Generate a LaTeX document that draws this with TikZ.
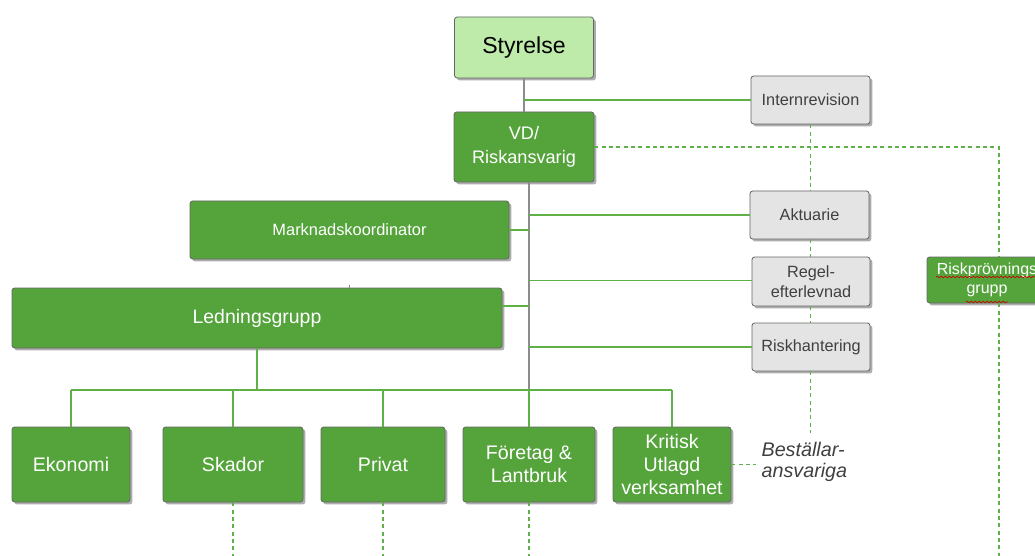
\documentclass[tikz,border=0pt]{standalone}
\usepackage{fontspec}
\setmainfont{Liberation Sans}
\usetikzlibrary{shadows,decorations.pathmorphing}

\definecolor{boxgreen}{RGB}{84,164,59}
\definecolor{palegreen}{RGB}{190,235,170}
\definecolor{boxgray}{RGB}{228,228,228}
\definecolor{linegreen}{RGB}{96,176,72}
\definecolor{linegray}{RGB}{140,140,140}
\definecolor{textgray}{RGB}{64,64,64}

\begin{document}
\begin{tikzpicture}[x=0.75pt,y=0.75pt,yscale=-1,xscale=1,
    unit/.style 2 args={minimum width=#1*0.75pt,minimum height=#2*0.75pt},
    orgbox/.style={draw=black!60,line width=0.6pt,rounded corners=2pt,inner sep=1pt,align=center,
        drop shadow={shadow xshift=1.8pt,shadow yshift=-1.8pt,opacity=0.4,fill=black!80}},
    greenbox/.style={orgbox,fill=boxgreen,text=white},
    graybox/.style={orgbox,fill=boxgray,text=textgray,font=\fontsize{12.2}{14.6}\selectfont},
    bottombox/.style={greenbox,font=\fontsize{14.7}{17.6}\selectfont},
    solidline/.style={linegreen,line width=0.9pt},
    spineline/.style={linegray,line width=0.9pt},
    dashline/.style={linegreen,line width=0.9pt,dash pattern=on 3pt off 2.5pt}]
        \useasboundingbox (0,0) rectangle (1035,556);
        \clip (0,0) rectangle (1035,556);

        %Shape: Rectangle [top]
        \node [orgbox,fill=palegreen,text=black,unit={139}{61},font=\fontsize{17.3}{20}\selectfont] (styr) at (524,47.5) {Styrelse};
        \node [graybox,unit={119}{48}] (intrev) at (810.5,100) {Internrevision};
        \node [greenbox,unit={140}{70},font=\fontsize{13.6}{18}\selectfont] (vd) at (524,147) {VD/\\Riskansvarig};

        %Shape: Rectangle [middle]
        \node [greenbox,unit={319}{58},font=\fontsize{12.3}{15}\selectfont] (mark) at (349.5,230) {Marknadskoordinator};
        \node [greenbox,unit={490}{60},font=\fontsize{14.6}{18}\selectfont] (ledn) at (257,318) {Ledningsgrupp};
        \node [graybox,unit={119}{48}] (aktuarie) at (809.5,215) {Aktuarie};
        \node [graybox,unit={118}{49}] (regel) at (811,281.5) {Regel-\\efterlevnad};
        \node [graybox,unit={118}{48}] (riskh) at (811,347) {Riskhantering};
        \node [greenbox,unit={120}{46},font=\fontsize{12}{14.5}\selectfont] (riskprov) at (987,280) {Riskprövnings\\grupp};

        %Shape: Rectangle [bottom row]
        \node [bottombox,unit={118}{75}] (ekonomi) at (71,464.5) {Ekonomi};
        \node [bottombox,unit={140}{75}] (skador) at (233,464.5) {Skador};
        \node [bottombox,unit={124}{75}] (privat) at (383,464.5) {Privat};
        \node [bottombox,unit={132}{75}] (foretag) at (529,464.5) {Företag \&\\Lantbruk};
        \node [bottombox,unit={118}{75}] (kritisk) at (672,464.5) {Kritisk\\Utlagd\\verksamhet};

        % Text Node
        \node [anchor=west,align=left,inner sep=1pt,text=textgray,font=\itshape\fontsize{14.8}{15.8}\selectfont] (bestall) at (760,462) {Beställar-\\ansvariga};

        \coordinate (bus) at (257,390);
        \coordinate (rcorner) at (999,147);
        \coordinate (rbottom) at (999,556);

        %Straight Lines [board]
        \draw [spineline] (styr.south) -- (vd.north);
        \draw [solidline] (styr.south |- intrev.west) -- (intrev.west);
        %Straight Lines [spine]
        \draw [spineline] (vd.south -| foretag.north) -- (foretag.north |- bus);
        \draw [solidline] (foretag.north |- bus) -- (foretag.north);
        \draw [solidline] (aktuarie.west -| foretag.north) -- (aktuarie.west);
        \draw [solidline] ([yshift=-1pt]regel.west -| foretag.north) -- ([yshift=-1pt]regel.west);
        \draw [solidline] (riskh.west -| foretag.north) -- (riskh.west);
        \draw [solidline] (mark.east) -- (mark.east -| foretag.north);
        \draw [solidline] ([yshift=-9pt]ledn.east) -- ([yshift=-9pt]ledn.east -| foretag.north);
        \draw [spineline] (ledn.north -| mark.south) -- ++(0,-3);
        %Straight Lines [bus]
        \draw [solidline] (ledn.south) -- (bus);
        \draw [solidline] (ekonomi.north |- bus) -- (kritisk.north |- bus);
        \foreach \unitbox in {ekonomi,skador,privat,kritisk}
            \draw [solidline] (\unitbox.north |- bus) -- (\unitbox.north);

        %Straight Lines [dashed]
        \draw [dashline] (intrev.south) -- (aktuarie.north -| intrev.south);
        \draw [dashline] (aktuarie.south -| intrev.south) -- (regel.north -| intrev.south);
        \draw [dashline] (regel.south -| intrev.south) -- (riskh.north -| intrev.south);
        \draw [dashline,shorten >=6pt] (riskh.south -| intrev.south) -- (bestall.north -| intrev.south);
        \draw [dashline,shorten >=3pt] (kritisk.east) -- (bestall.west |- kritisk.east);
        \draw [dashline] (vd.east) -- (rcorner) -- (rcorner |- riskprov.north);
        \draw [dashline] (rcorner |- riskprov.south) -- (rbottom);
        \foreach \unitbox in {skador,privat,foretag}
            \draw [dashline] (\unitbox.south) -- (\unitbox.south |- rbottom);

        %Spelling marks
        \draw [red!80!black,line width=0.5pt,decorate,decoration={snake,amplitude=0.6pt,segment length=3pt}] (936,277) -- (1035,277);
        \draw [red!80!black,line width=0.5pt,decorate,decoration={snake,amplitude=0.6pt,segment length=3pt}] (966,302) -- (1008,302);
\end{tikzpicture}
\end{document}
